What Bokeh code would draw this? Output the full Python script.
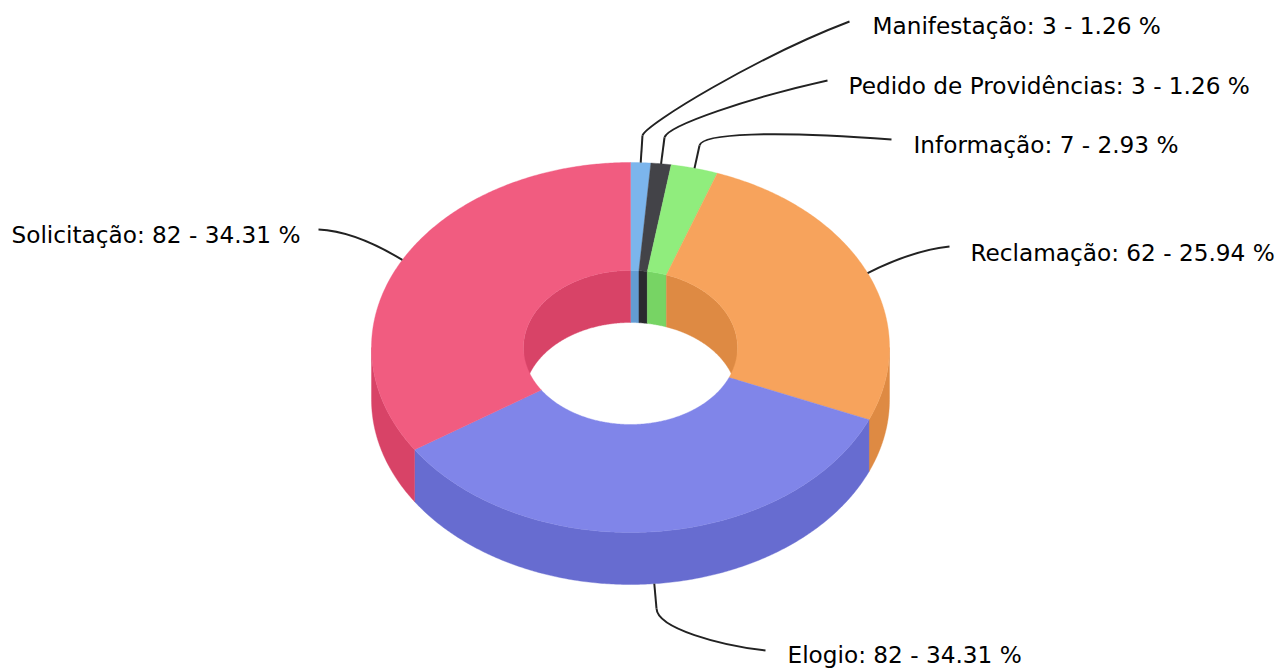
import numpy as np
from bokeh.plotting import figure
from bokeh.models import Range1d, ColumnDataSource
from bokeh.core.properties import value as fixed
from bokeh.embed import file_html
from bokeh.resources import INLINE

categories = ["Manifestação", "Pedido de Providências", "Informação", "Reclamação", "Elogio", "Solicitação"]
values = [3, 3, 7, 62, 82, 82]
colors = ["#7cb5ec", "#434348", "#90ed7d", "#f7a35c", "#8085e9", "#f15c80"]
side_colors = ["#639cd3", "#2a2a2f", "#77d464", "#de8a43", "#676cd0", "#d84367"]

CX, CY, RX, RY, IRX, IRY, DEPTH = 630, 347, 259, 185, 107, 77, 52

label_x = [872, 848, 913, 970, 787, 11]
label_y = [25, 85, 144, 252, 654, 234]

# leader routes, relative layout: stub end (or None), c1, c2, end
leaders = [
    ((642, 135), (645, 124), (757, 56), (849, 21)),
    ((664, 137), (667, 125), (750, 97), (827, 80)),
    ((699, 145), (702, 133), (770, 130), (891, 139)),
    (None, (900, 256), (930, 248), (949, 246)),
    ((656, 608), (657, 628), (720, 645), (765, 650)),
    (None, (370, 240), (340, 230), (318, 229)),
]

total = sum(values)
edges = np.cumsum([0] + values) / total * 360.0


def ex(a, r):
    return CX + r * np.sin(np.radians(a))


def ey(a, r):
    return CY - r * np.cos(np.radians(a))


def arc(a0, a1):
    n = max(int(abs(a1 - a0)) * 2, 2) + 1
    return np.linspace(a0, a1, n)


W, H = 1279, 668
p = figure(width=W, height=H, output_backend="svg", toolbar_location=None,
           x_range=Range1d(0, W), y_range=Range1d(H, 0),
           min_border=0, outline_line_color=None, background_fill_color="white")
p.axis.visible = False
p.grid.visible = False

# inner walls: back half of the hole
for i in range(len(values)):
    a0, a1 = edges[i], edges[i + 1]
    for lo, hi in ((0, 90), (270, 360)):
        s, e = max(a0, lo), min(a1, hi)
        if e > s:
            t = arc(s, e)
            xs = np.r_[ex(t, IRX), ex(t[::-1], IRX)]
            ys = np.r_[ey(t, IRY), ey(t[::-1], IRY) + DEPTH]
            p.patch(xs, ys, fill_color=side_colors[i], line_color=side_colors[i], line_width=0.4)

# outer walls: front half
for i in range(len(values)):
    s, e = max(edges[i], 90), min(edges[i + 1], 270)
    if e > s:
        t = arc(s, e)
        xs = np.r_[ex(t, RX), ex(t[::-1], RX)]
        ys = np.r_[ey(t, RY), ey(t[::-1], RY) + DEPTH]
        p.patch(xs, ys, fill_color=side_colors[i], line_color=side_colors[i], line_width=0.4)

# top surface
for i in range(len(values)):
    t = arc(edges[i], edges[i + 1])
    xs = np.r_[ex(t, RX), ex(t[::-1], IRX)]
    ys = np.r_[ey(t, RY), ey(t[::-1], IRY)]
    p.patch(xs, ys, fill_color=colors[i], line_color=colors[i], line_width=0.4)

# leaders, anchored at each slice's middle angle on the outer rim
for i, (stub, c1, c2, end) in enumerate(leaders):
    m = (edges[i] + edges[i + 1]) / 2
    ax, ay = float(ex(m, RX)), float(ey(m, RY))
    if 90 < m < 270:
        ay += DEPTH
    if stub is not None:
        p.line([ax, stub[0]], [ay, stub[1]], line_color="#222222", line_width=2)
        sx, sy = stub
    else:
        sx, sy = ax, ay
    p.bezier(x0=[sx], y0=[sy], x1=[end[0]], y1=[end[1]], cx0=[c1[0]], cy0=[c1[1]],
             cx1=[c2[0]], cy1=[c2[1]], line_color="#222222", line_width=2)

labels = [f"{c}: {v} - {v / total * 100:.2f} %" for c, v in zip(categories, values)]
src = ColumnDataSource(dict(x=label_x, y=label_y, t=labels))
p.text("x", "y", text="t", source=src, text_font=fixed("DejaVu Sans"), text_font_size="23.2px",
       text_color="#000000", text_baseline="middle", text_align="left")

open("out.html", "w").write(file_html(p, INLINE))
